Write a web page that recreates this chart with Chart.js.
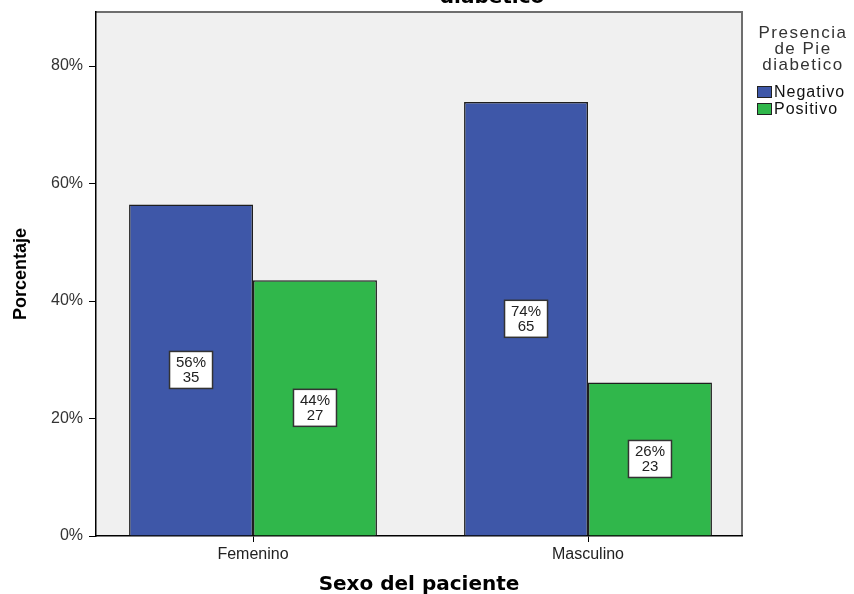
<!DOCTYPE html>
<html>
<head>
<meta charset="utf-8">
<script src="https://cdn.jsdelivr.net/npm/chart.js@4.4.1/dist/chart.umd.min.js"></script>
<style>
  html, body { margin: 0; padding: 0; background: #fff; }
  #wrap { width: 854px; height: 594px; }
</style>
</head>
<body>
<div id="wrap"><canvas id="myChart" width="854" height="594"></canvas></div>
<script>
// data
const sexes = ['Femenino', 'Masculino'];
const seriesNames = ['Negativo', 'Positivo'];
const negativoPct = [56.45, 73.86];
const positivoPct = [43.55, 26.14];
const negativoCount = [35, 65];
const positivoCount = [27, 23];
const yTicks = [0, 20, 40, 60, 80];

const colors = ['#3e57a8', '#30b74b'];

function toPoints(vals) {
    return vals.map((v, i) => ({ x: i, y: v }));
}

// plot background and border
const plotBg = {
    id: 'plotBg',
    beforeDraw(chart) {
        const a = chart.chartArea, ctx = chart.ctx;
        ctx.save();
        ctx.fillStyle = '#f0f0f0';
        ctx.fillRect(a.left, a.top, a.right - a.left, a.bottom - a.top);
        ctx.strokeStyle = '#6e6e6e';
        ctx.lineWidth = 2;
        ctx.beginPath();
        ctx.moveTo(a.left, a.top);
        ctx.lineTo(a.right, a.top);
        ctx.lineTo(a.right, a.bottom);
        ctx.stroke();
        ctx.restore();
    }
};

// white boxes with percent and count
const boxLabels = {
    id: 'boxLabels',
    afterDatasetsDraw(chart) {
        const ctx = chart.ctx;
        const counts = [negativoCount, positivoCount];
        ctx.save();
        ctx.font = '15px "Liberation Sans", Arial, sans-serif';
        ctx.textAlign = 'center';
        ctx.textBaseline = 'middle';
        chart.data.datasets.forEach((ds, di) => {
            chart.getDatasetMeta(di).data.forEach((bar, i) => {
                const cx = bar.x;
                const cy = (bar.y + bar.base) / 2;
                const w = 43, h = 37;
                ctx.fillStyle = '#fff';
                ctx.fillRect(cx - w / 2, cy - h / 2, w, h);
                ctx.strokeStyle = '#333';
                ctx.lineWidth = 1.5;
                ctx.strokeRect(cx - w / 2, cy - h / 2, w, h);
                ctx.fillStyle = '#222';
                ctx.fillText(Math.round(ds.data[i].y) + '%', cx, cy - 7);
                ctx.fillText(String(counts[di][i]), cx, cy + 8);
            });
        });
        ctx.restore();
    }
};

// legend on the right and the clipped title on top
const sideText = {
    id: 'sideText',
    afterDraw(chart) {
        const ctx = chart.ctx;
        ctx.save();
        ctx.fillStyle = '#000';
        ctx.font = 'bold 20px "DejaVu Sans", sans-serif';
        ctx.textAlign = 'center';
        ctx.textBaseline = 'alphabetic';
        ctx.fillText('diabetico', 492, 3);

        ctx.fillStyle = '#333';
        ctx.font = '17px "Liberation Sans", Arial, sans-serif';
        ctx.letterSpacing = '1.5px';
        ctx.textBaseline = 'middle';
        ['Presencia', 'de Pie', 'diabetico'].forEach((t, i) => {
            ctx.fillText(t, 803, 33 + i * 16);
        });
        ctx.font = '16px "Liberation Sans", Arial, sans-serif';
        ctx.letterSpacing = '1px';
        ctx.textAlign = 'left';
        seriesNames.forEach((name, i) => {
            const y = 92 + i * 17;
            ctx.fillStyle = colors[i];
            ctx.fillRect(757, y - 6, 15, 12);
            ctx.strokeStyle = '#222';
            ctx.lineWidth = 1;
            ctx.strokeRect(757.5, y - 5.5, 14, 11);
            ctx.fillStyle = '#111';
            ctx.fillText(name, 774, y + 1);
        });
        ctx.restore();
    }
};

const ctx = document.getElementById('myChart').getContext('2d');
new Chart(ctx, {
    type: 'bar',
    data: {
        datasets: [{
            label: seriesNames[0],
            data: toPoints(negativoPct),
            backgroundColor: colors[0],
            borderColor: '#1e1e1e',
            borderWidth: 1.5
        },
        {
            label: seriesNames[1],
            data: toPoints(positivoPct),
            backgroundColor: colors[1],
            borderColor: '#1e1e1e',
            borderWidth: 1.5
        }]
    },
    options: {
        responsive: false,
        animation: false,
        layout: { padding: { top: 12, right: 112, left: 0, bottom: 0 } },
        categoryPercentage: 0.74,
        barPercentage: 1,
        plugins: {
            legend: { display: false },
            tooltip: { enabled: false }
        },
        scales: {
            x: {
                type: 'linear',
                offset: false,
                min: -0.4687,
                max: 1.4597,
                afterBuildTicks: (s) => { s.ticks = sexes.map((_, i) => ({ value: i })); },
                afterFit: (s) => { s.height = 58; s.paddingLeft = 0; s.paddingRight = 0; },
                ticks: {
                    callback: (v) => sexes[v],
                    color: '#222',
                    padding: 3,
                    font: { family: '"Liberation Sans", Arial, sans-serif', size: 16 }
                },
                grid: { offset: false, drawOnChartArea: false, drawTicks: true, tickLength: 6, color: '#000' },
                border: { display: true, color: '#000', width: 1.5 },
                title: {
                    display: true,
                    text: 'Sexo del paciente',
                    color: '#000',
                    padding: { top: 0, bottom: -3 },
                    font: { family: '"DejaVu Sans", sans-serif', size: 20, weight: 'bold' }
                }
            },
            y: {
                min: 0,
                max: 89.2,
                afterBuildTicks: (s) => { s.ticks = yTicks.map(v => ({ value: v })); },
                afterFit: (s) => { s.width = 96; s.paddingTop = 0; s.paddingBottom = 0; },
                ticks: {
                    callback: (v) => v + '%',
                    color: '#333',
                    padding: 6,
                    font: { family: '"Liberation Sans", Arial, sans-serif', size: 16 }
                },
                grid: { drawOnChartArea: false, drawTicks: true, tickLength: 7, color: '#000' },
                border: { display: true, color: '#000', width: 1.5 },
                title: {
                    display: true,
                    text: 'Porcentaje',
                    color: '#000',
                    padding: { top: 10, bottom: 0 },
                    font: { family: '"Liberation Sans", Arial, sans-serif', size: 18, weight: 'bold' }
                }
            }
        }
    },
    plugins: [plotBg, boxLabels, sideText]
});
</script>
</body>
</html>
